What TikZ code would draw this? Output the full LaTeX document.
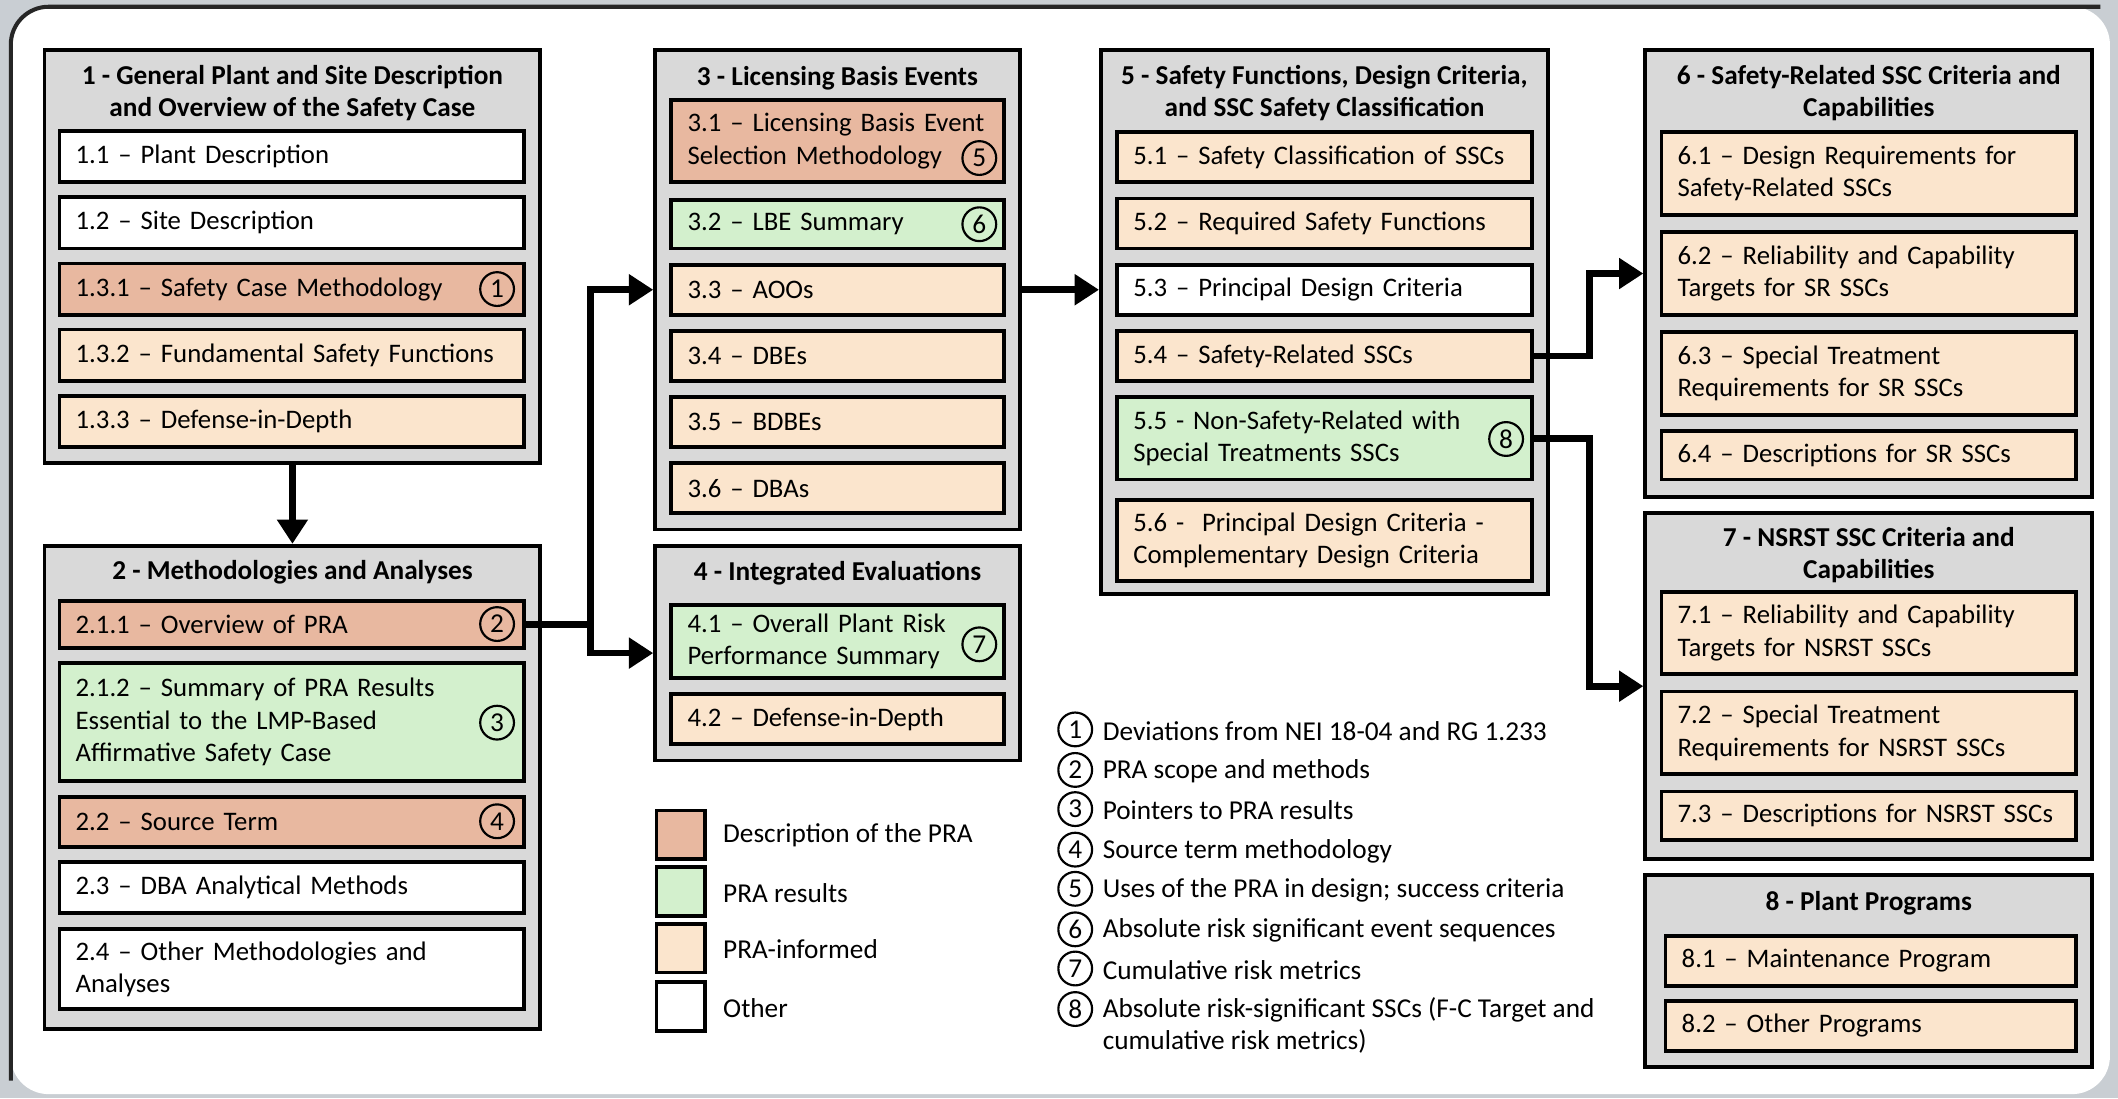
\documentclass[tikz,border=0pt]{standalone}
\usepackage{fontspec}
\setmainfont{Carlito}
\usetikzlibrary{arrows.meta}

\definecolor{praDesc}{HTML}{E8B8A0}
\definecolor{praRes}{HTML}{D3F0CD}
\definecolor{praInf}{HTML}{FBE5CD}
\definecolor{grpGray}{HTML}{D9D9D9}
\definecolor{bgGray}{HTML}{C9CED3}

\tikzset{
  grp/.style={draw=black, line width=1.4pt, fill=grpGray, inner sep=0pt},
  ttl/.style={align=center, inner sep=0pt, font=\fontsize{10.1pt}{12pt}\selectfont\bfseries},
  sub/.style={draw=black, line width=1.4pt, inner xsep=6pt, inner ysep=1pt, align=left,
    font=\fontsize{9.9pt}{12pt}\selectfont},
  colA/.style={sub, text width=160pt},
  colB/.style={sub, text width=111pt},
  colC/.style={sub, text width=141.5pt},
  circ/.style={circle, draw=black, line width=0.8pt, inner sep=0pt, minimum size=12.5pt,
    font=\fontsize{10.1pt}{12pt}\selectfont},
  note/.style={anchor=west, inner sep=0pt, align=left, font=\fontsize{10.1pt}{12pt}\selectfont},
  key/.style={draw=black, line width=1.4pt, minimum size=18pt, inner sep=0pt},
  arr/.style={line width=2.5pt, -{Triangle[length=9pt,width=11pt]}}
}

\begin{document}
\begin{tikzpicture}[x=0.5pt, y=-0.5pt]
\useasboundingbox (0,0) rectangle (1568,813);

% frame
\fill[bgGray] (0,0) rectangle (1568,813);
\fill[white, rounded corners=14pt] (8,5) rectangle (1562,810);
\draw[black!85, line width=1.5pt, rounded corners=14pt] (8,800) -- (8,5) -- (1555,5);

% group boxes
\node[grp, minimum width=183.5pt, minimum height=153pt] (g1) at (216.5,190) {};
\node[grp, minimum width=183.5pt, minimum height=179pt] (g2) at (216.5,583) {};
\node[grp, minimum width=135pt, minimum height=177.5pt] (g3) at (620,214.5) {};
\node[grp, minimum width=135pt, minimum height=79.5pt] (g4) at (620,483.5) {};
\node[grp, minimum width=165.5pt, minimum height=201.5pt] (g5) at (980.5,238.5) {};
\node[grp, minimum width=165.5pt, minimum height=165.5pt] (g6) at (1383.5,202.5) {};
\node[grp, minimum width=165.5pt, minimum height=128pt] (g7) at (1383.5,508) {};
\node[grp, minimum width=165.5pt, minimum height=71pt] (g8) at (1383.5,719) {};

\node[ttl] (t1) at (216.5,69) {1 - General Plant and Site Description\\and Overview of the Safety Case};
\node[ttl] (t2) at (216.5,424) {2 - Methodologies and Analyses};
\node[ttl] (t3) at (620,58) {3 - Licensing Basis Events};
\node[ttl] (t4) at (620,424) {4 - Integrated Evaluations};
\node[ttl] (t5) at (980.5,69) {5 - Safety Functions, Design Criteria,\\and SSC Safety Classification};
\node[ttl] (t6) at (1383.5,69) {6 - Safety-Related SSC Criteria and\\Capabilities};
\node[ttl] (t7) at (1383.5,411) {7 - NSRST SSC Criteria and\\Capabilities};
\node[ttl] (t8) at (1383.5,669) {8 - Plant Programs};

% section 1
\node[colA, fill=white, minimum height=19pt] (s11) at (216,116) {1.1 – Plant Description};
\node[colA, fill=white, minimum height=19pt] (s12) at (216,165) {1.2 – Site Description};
\node[colA, fill=praDesc, minimum height=19pt] (s131) at (216,214) {1.3.1 – Safety Case Methodology};
\node[colA, fill=praInf, minimum height=19pt] (s132) at (216,263) {1.3.2 – Fundamental Safety Functions};
\node[colA, fill=praInf, minimum height=19pt] (s133) at (216,312) {1.3.3 – Defense-in-Depth};
\node[circ] (c1) at (368,214) {1};

% section 2
\node[colA, fill=praDesc, minimum height=17.5pt] (s211) at (216,462.5) {2.1.1 – Overview of PRA};
\node[colA, fill=praRes, minimum height=43.5pt] (s212) at (216,534.5) {2.1.2 – Summary of PRA Results\\Essential to the LMP-Based\\Affirmative Safety Case};
\node[colA, fill=praDesc, minimum height=18.5pt] (s22) at (216,608.5) {2.2 – Source Term};
\node[colA, fill=white, minimum height=19pt] (s23) at (216,657) {2.3 – DBA Analytical Methods};
\node[colA, fill=white, minimum height=29.5pt] (s24) at (216,717.5) {2.4 – Other Methodologies and\\Analyses};
\node[circ] (c2) at (368,462) {2};
\node[circ] (c3) at (368,535) {3};
\node[circ] (c4) at (368,608) {4};

% section 3
\node[colB, fill=praDesc, minimum height=30.5pt] (s31) at (620,104.5) {3.1 – Licensing Basis Event\\Selection Methodology};
\node[colB, fill=praRes, minimum height=18pt] (s32) at (620,166) {3.2 – LBE Summary};
\node[colB, fill=praInf, minimum height=18.5pt] (s33) at (620,214.5) {3.3 – AOOs};
\node[colB, fill=praInf, minimum height=18.5pt] (s34) at (620,263.5) {3.4 – DBEs};
\node[colB, fill=praInf, minimum height=18.5pt] (s35) at (620,312.5) {3.5 – BDBEs};
\node[colB, fill=praInf, minimum height=18.5pt] (s36) at (620,361.5) {3.6 – DBAs};
\node[circ] (c5) at (725,117) {5};
\node[circ] (c6) at (725,166) {6};

% section 4
\node[colB, fill=praRes, minimum height=27pt] (s41) at (620,475) {4.1 – Overall Plant Risk\\Performance Summary};
\node[colB, fill=praInf, minimum height=18.5pt] (s42) at (620,532.5) {4.2 – Defense-in-Depth};
\node[circ] (c7) at (725,477) {7};

% section 5
\node[colC, fill=praInf, minimum height=18.5pt] (s51) at (980.5,116.5) {5.1 – Safety Classification of SSCs};
\node[colC, fill=praInf, minimum height=18.5pt] (s52) at (980.5,165.5) {5.2 – Required Safety Functions};
\node[colC, fill=white, minimum height=18.5pt] (s53) at (980.5,214.5) {5.3 – Principal Design Criteria};
\node[colC, fill=praInf, minimum height=18.5pt] (s54) at (980.5,263.5) {5.4 – Safety-Related SSCs};
\node[colC, fill=praRes, minimum height=30.5pt] (s55) at (980.5,324.5) {5.5 - Non-Safety-Related with\\Special Treatments SSCs};
\node[colC, fill=praInf, minimum height=30pt] (s56) at (980.5,400) {5.6 -\ \ Principal Design Criteria -\\Complementary Design Criteria};
\node[circ] (c8) at (1115,325) {8};

% section 6
\node[colC, fill=praInf, minimum height=30.5pt] (s61) at (1383.5,128.5) {6.1 – Design Requirements for\\Safety-Related SSCs};
\node[colC, fill=praInf, minimum height=30.5pt] (s62) at (1383.5,202.5) {6.2 – Reliability and Capability\\Targets for SR SSCs};
\node[colC, fill=praInf, minimum height=30.5pt] (s63) at (1383.5,276.5) {6.3 – Special Treatment\\Requirements for SR SSCs};
\node[colC, fill=praInf, minimum height=18pt] (s64) at (1383.5,337) {6.4 – Descriptions for SR SSCs};

% section 7
\node[colC, fill=praInf, minimum height=30.5pt] (s71) at (1383.5,468.5) {7.1 – Reliability and Capability\\Targets for NSRST SSCs};
\node[colC, fill=praInf, minimum height=30.5pt] (s72) at (1383.5,542.5) {7.2 – Special Treatment\\Requirements for NSRST SSCs};
\node[colC, fill=praInf, minimum height=18pt] (s73) at (1383.5,604) {7.3 – Descriptions for NSRST SSCs};

% section 8
\node[colC, fill=praInf, text width=140pt, minimum height=18.5pt] (s81) at (1385,711.5) {8.1 – Maintenance Program};
\node[colC, fill=praInf, text width=140pt, minimum height=18.5pt] (s82) at (1385,759.5) {8.2 – Other Programs};

% arrows
\draw[arr] (g1.south) -- (g2.north);
\coordinate (b1) at (437,462.5);
\draw[arr] (s211.east) -- (b1) |- (g3.west |- s33);
\draw[arr] (b1) |- (g4.west);
\draw[arr] (g3.east |- s33) -- (g5.west |- s33);
\coordinate (d1) at (1177,263.5);
\draw[arr] (s54.east) -- (d1) |- (g6.west |- s62);
\coordinate (e1) at (1177,324.5);
\draw[arr] (s55.east) -- (e1) |- (g7.west);

% legend
\node[key, fill=praDesc] (k1) at (504,618) {};
\node[key, fill=praRes] (k2) at (504,660) {};
\node[key, fill=praInf] (k3) at (504,702) {};
\node[key, fill=white] (k4) at (504,745) {};
\node[note] (l1) at (535,618) {Description of the PRA};
\node[note] (l2) at (535,661) {PRA results};
\node[note] (l3) at (535,703) {PRA-informed};
\node[note] (l4) at (535,746) {Other};

% notes
\node[circ] (n1) at (796,540) {1};
\node[circ] (n2) at (796,570) {2};
\node[circ] (n3) at (796,599) {3};
\node[circ] (n4) at (796,629) {4};
\node[circ] (n5) at (796,658) {5};
\node[circ] (n6) at (796,688) {6};
\node[circ] (n7) at (796,717) {7};
\node[circ] (n8) at (796,747) {8};
\node[note] (m1) at (816,541) {Deviations from NEI 18-04 and RG 1.233};
\node[note] (m2) at (816,571) {PRA scope and methods};
\node[note] (m3) at (816,600) {Pointers to PRA results};
\node[note] (m4) at (816,630) {Source term methodology};
\node[note] (m5) at (816,659) {Uses of the PRA in design; success criteria};
\node[note] (m6) at (816,689) {Absolute risk significant event sequences};
\node[note] (m7) at (816,718) {Cumulative risk metrics};
\node[note, anchor=north west] (m8) at (816,738) {Absolute risk-significant SSCs (F-C Target and\\cumulative risk metrics)};

\end{tikzpicture}
\end{document}
